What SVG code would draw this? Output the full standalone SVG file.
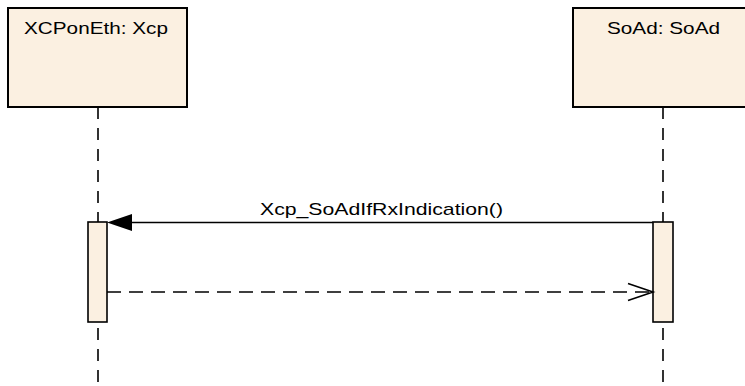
<svg xmlns="http://www.w3.org/2000/svg" width="745" height="386" viewBox="0 0 745 386">
<style>
.box{fill:#FBF0E1;stroke:#000;stroke-width:2}
.act{fill:#FBF0E1;stroke:#000;stroke-width:1.6}
.life{stroke:#000;stroke-width:1.6;stroke-dasharray:12 9;fill:none}
.lbl{font-family:"Liberation Sans",Arial,sans-serif;font-size:17px;fill:#000}
.msg{stroke:#000;stroke-width:1.6;fill:none}
.ret{stroke:#000;stroke-width:1.6;fill:none;stroke-dasharray:14 8}
</style>
<rect width="745" height="386" fill="#fff"/>
<g id="connectors">
<line class="life" x1="98" y1="107" x2="98" y2="222"/>
<line class="life" x1="98" y1="322" x2="98" y2="386" stroke-dashoffset="15"/>
<line class="life" x1="663" y1="107" x2="663" y2="222"/>
<line class="life" x1="663" y1="322" x2="663" y2="386" stroke-dashoffset="15"/>
</g>
<g id="xcp">
<rect class="box" x="8" y="8" width="179" height="99"/>
<text class="lbl" x="24" y="34" textLength="144" lengthAdjust="spacingAndGlyphs">XCPonEth: Xcp</text>
</g>
<g id="soad">
<rect class="box" x="573" y="8" width="180" height="99"/>
<text class="lbl" x="607" y="34" textLength="113" lengthAdjust="spacingAndGlyphs">SoAd: SoAd</text>
</g>
<g id="xcp-activation">
<rect class="act" x="88" y="222" width="19" height="100"/>
</g>
<g id="soad-activation">
<rect class="act" x="653" y="222" width="20" height="100"/>
</g>
<g id="messages">
<line class="msg" x1="653" y1="222.5" x2="125" y2="222.5"/>
<polygon points="107,222.5 132,214 132,231" fill="#000"/>
<text class="lbl" x="260" y="215" textLength="243" lengthAdjust="spacingAndGlyphs">Xcp_SoAdIfRxIndication()</text>
<line class="ret" x1="107" y1="292" x2="651" y2="292"/>
<polyline class="msg" points="628,283.5 653,292 628,300.5"/>
</g>
</svg>
